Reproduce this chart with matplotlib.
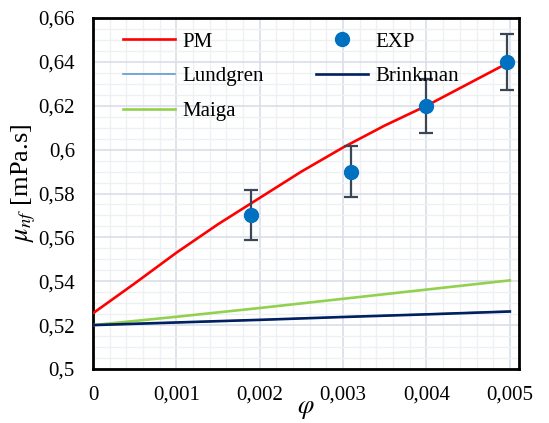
import numpy as np
import matplotlib
matplotlib.use('Agg')
import matplotlib.pyplot as plt
from matplotlib.ticker import MultipleLocator, FuncFormatter
from matplotlib.lines import Line2D

# model curves
phi = [0, 0.0005, 0.001, 0.0015, 0.002, 0.0025, 0.003, 0.0035, 0.004, 0.0045, 0.005]
pm = [0.5254, 0.539, 0.553, 0.566, 0.578, 0.590, 0.601, 0.611, 0.620, 0.630, 0.640]

phi_lin = [0, 0.001, 0.002, 0.003, 0.004, 0.005]
maiga = [0.520, 0.5238, 0.5278, 0.5320, 0.5362, 0.5404]
brinkman = [0.520, 0.5212, 0.5224, 0.5237, 0.5249, 0.5262]
lundgren = [0.520, 0.5212, 0.5224, 0.5237, 0.5250, 0.5263]

# experiment
phi_exp = [0.0019, 0.0031, 0.0040, 0.00497]
mu_exp = [0.570, 0.590, 0.620, 0.640]
err_exp = [0.0114, 0.0118, 0.0124, 0.0128]

plt.rcParams['font.family'] = ['Liberation Serif', 'DejaVu Serif']
plt.rcParams['mathtext.fontset'] = 'stix'

fig = plt.figure(figsize=(5.49, 4.23), dpi=100)
ax = fig.add_axes([0.1694, 0.1277, 0.776, 0.8297])

l_pm, = ax.plot(phi, pm, color='#FF0000', lw=1.9, zorder=4)
l_lu, = ax.plot(phi_lin, lundgren, color='#5B9BD5', lw=1.2, zorder=3)
l_ma, = ax.plot(phi_lin, maiga, color='#92D050', lw=1.9, zorder=3)
ax.errorbar(phi_exp, mu_exp, yerr=err_exp, fmt='o', color='#0070C0', ms=10,
            ecolor='#3A4556', elinewidth=1.6, capsize=5, capthick=1.6, zorder=5)
l_br, = ax.plot(phi_lin, brinkman, color='#002060', lw=1.9, zorder=3)
l_exp = Line2D([], [], ls='none', marker='o', ms=10, color='#0070C0')

ax.set_xlim(0, 0.00511)
ax.set_ylim(0.5, 0.66)
ax.xaxis.set_major_locator(MultipleLocator(0.001))
ax.xaxis.set_minor_locator(MultipleLocator(0.0002))
ax.yaxis.set_major_locator(MultipleLocator(0.02))
ax.yaxis.set_minor_locator(MultipleLocator(0.005))

def fmt(v, pos):
    s = ('%.3f' % v).rstrip('0').rstrip('.')
    return s.replace('.', ',')

ax.xaxis.set_major_formatter(FuncFormatter(fmt))
ax.yaxis.set_major_formatter(FuncFormatter(fmt))
ax.tick_params(which='both', length=0, labelsize=15)
ax.tick_params(axis='x', pad=12)
ax.tick_params(axis='y', pad=13)

ax.grid(True, which='major', color='#D9DEE7', lw=1.2)
ax.grid(True, which='minor', color='#EEF0F4', lw=1.0)
ax.set_axisbelow(True)
for sp in ax.spines.values():
    sp.set_linewidth(2)
    sp.set_color('black')

ax.set_ylabel(r'$\mu_{nf}$ [mPa.s]', fontsize=19)
ax.yaxis.set_label_coords(-0.128, 0.53)
ax.set_xlabel(r'$\varphi$', fontsize=19)
ax.xaxis.set_label_coords(0.5, -0.085)

ax.legend([l_pm, l_lu, l_ma, l_exp, l_br],
          ['PM', 'Lundgren', 'Maiga', 'EXP', 'Brinkman'],
          ncol=2, frameon=False, fontsize=15,
          loc='upper left', bbox_to_anchor=(0.07, 0.96), borderaxespad=0,
          borderpad=0, handlelength=2.5, handletextpad=0.35,
          columnspacing=2.5, labelspacing=0.72)

plt.savefig('out.png', dpi=100)
